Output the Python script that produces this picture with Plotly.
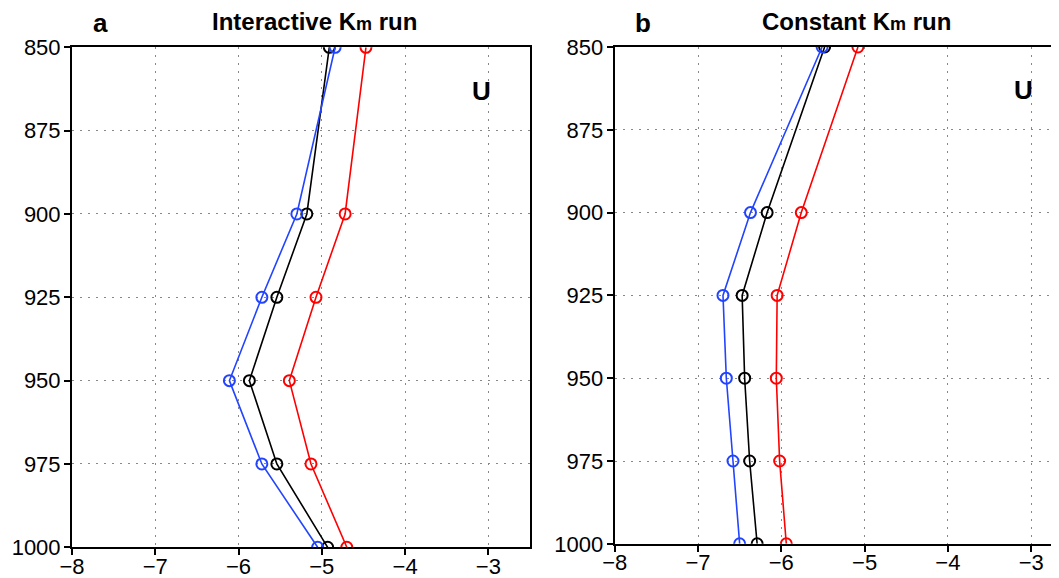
import plotly.graph_objects as go

levels = [850, 875, 900, 925, 950, 975, 1000]
lev_pts = [850, 900, 925, 950, 975, 1000]

# Panel a: Interactive Km run
a_black = [-4.91, -5.18, -5.54, -5.87, -5.54, -4.93]
a_blue = [-4.84, -5.30, -5.72, -6.11, -5.72, -5.05]
a_red = [-4.47, -4.72, -5.07, -5.39, -5.13, -4.70]

# Panel b: Constant Km run
b_black = [-5.48, -6.17, -6.47, -6.44, -6.38, -6.29]
b_blue = [-5.51, -6.37, -6.70, -6.66, -6.58, -6.50]
b_red = [-5.08, -5.76, -6.05, -6.06, -6.02, -5.94]

xticks = [-8, -7, -6, -5, -4, -3]
xtick_text = ["\u22128", "\u22127", "\u22126", "\u22125", "\u22124", "\u22123"]

colors = {"black": "#000000", "blue": "#2244ff", "red": "#ff0000"}

fig = go.Figure()

def add_series(xs, color, xa, ya):
    fig.add_trace(go.Scatter(
        x=xs, y=lev_pts, mode="lines+markers",
        line=dict(color=color, width=1.6),
        marker=dict(symbol="circle-open", size=11, color=color, line=dict(width=2, color=color)),
        xaxis=xa, yaxis=ya, showlegend=False, cliponaxis=True,
    ))

for xs, c in [(a_black, "black"), (a_blue, "blue"), (a_red, "red")]:
    add_series(xs, colors[c], "x", "y")
for xs, c in [(b_black, "black"), (b_blue, "blue"), (b_red, "red")]:
    add_series(xs, colors[c], "x2", "y2")

OFF = 8  # page body margin
W, H = 1059 - OFF, 578 - OFF

def px(p):
    return (p - OFF) / W

def py(p):
    return (H - (p - OFF)) / H

tickfont = dict(family="Liberation Sans, Arial, sans-serif", size=22, color="black")
grid = dict(showgrid=True, gridcolor="#888888", gridwidth=1, griddash="2px,6px")

common_x = dict(tickvals=xticks, ticktext=xtick_text, ticks="outside", ticklen=6, tickwidth=2,
                tickcolor="black", showline=True, linecolor="black", linewidth=2,
                tickfont=tickfont, zeroline=False, automargin=False, ticklabelstandoff=-8, **grid)
common_y = dict(tickvals=levels, ticks="outside", ticklen=6, tickwidth=2, tickcolor="black",
                showline=True, linecolor="black", linewidth=2, tickfont=tickfont,
                zeroline=False, automargin=False, ticklabelstandoff=-1, **grid)

fig.update_layout(
    width=W, height=H,
    margin=dict(l=0, r=0, t=0, b=0, autoexpand=False),
    paper_bgcolor="white", plot_bgcolor="white",
    xaxis=dict(domain=[px(72), px(530)], range=[-8, -2.5], anchor="y", mirror=True, **common_x),
    yaxis=dict(domain=[py(547.3), py(47.3)], range=[1000, 850], anchor="x", mirror=True, **common_y),
    xaxis2=dict(domain=[px(614.7), 1.0], range=[-8, -8 + (1059 - 614.7) / 83.3], anchor="y2", mirror=True, **common_x),
    yaxis2=dict(domain=[py(543.8), py(47)], range=[1000, 850], anchor="x2", mirror=False, **common_y),
)

title_font = dict(family="Liberation Sans, Arial, sans-serif", size=24, color="black")
label_font = dict(family="Liberation Sans, Arial, sans-serif", size=26, color="black")

annotations = [
    dict(x=px(100), y=py(23), text="<b>a</b>", font=label_font),
    dict(x=px(314), y=py(22), text="<b>Interactive K<span style='font-size:18px'>m</span> run</b>", font=title_font),
    dict(x=px(643), y=py(23), text="<b>b</b>", font=label_font),
    dict(x=px(856), y=py(22), text="<b>Constant K<span style='font-size:18px'>m</span> run</b>", font=title_font),
    dict(x=px(481), y=py(91), text="<b>U</b>", font=label_font),
    dict(x=px(1023), y=py(90), text="<b>U</b>", font=label_font),
]
for a in annotations:
    a.update(xref="paper", yref="paper", showarrow=False, xanchor="center", yanchor="middle")
fig.update_layout(annotations=annotations)

fig.write_html("out.html")
